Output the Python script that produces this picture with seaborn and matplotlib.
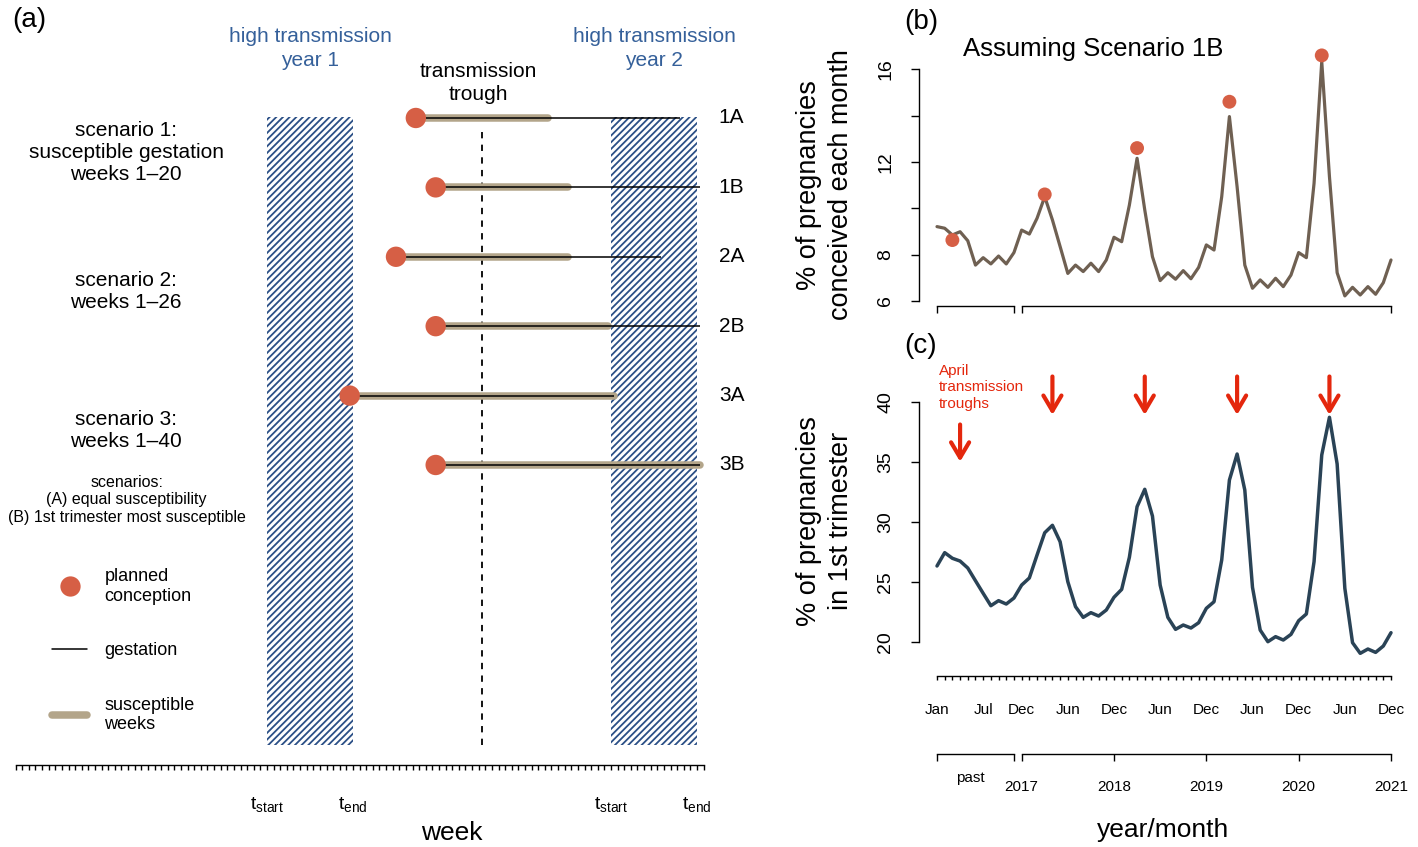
"""
Seasonal conception scenarios (a) and the resulting monthly series (b, c).
"""

import matplotlib
matplotlib.use("Agg")
import matplotlib.pyplot as plt
from matplotlib.lines import Line2D
import numpy as np
import pandas as pd
import seaborn as sns

# ----------------------------------------------------------------------
# data
# ----------------------------------------------------------------------
scenario_labels = ["1A", "1B", "2A", "2B", "3A", "3B"]
conception_week = [60.5, 63.5, 57.5, 63.5, 50.5, 63.5]
susceptible_length = [20, 20, 26, 26, 40, 40]
gestation_length = 40
t_start = [38, 90]
t_end = [51, 103]
trough_week = 70.5
n_weeks = 104
scenario_text = ["scenario 1:\nsusceptible gestation\nweeks 1\u201320",
                 "scenario 2:\nweeks 1\u201326",
                 "scenario 3:\nweeks 1\u201340"]

months = np.arange(60)
conceived = [9.21, 9.14, 8.85, 8.99, 8.60, 7.55, 7.87, 7.60, 7.94, 7.60, 8.09, 9.06,
             8.89, 9.57, 10.50, 9.50, 8.35, 7.19, 7.55, 7.27, 7.63, 7.27, 7.77, 8.75,
             8.56, 10.14, 12.16, 9.93, 7.91, 6.88, 7.22, 6.94, 7.31, 6.96, 7.45, 8.42,
             8.20, 10.50, 13.96, 10.93, 7.55, 6.55, 6.91, 6.59, 6.98, 6.62, 7.12, 8.09,
             7.87, 11.08, 16.33, 11.37, 7.22, 6.22, 6.59, 6.26, 6.62, 6.29, 6.79, 7.77]
planned_month = [2, 14, 26, 38, 50]
planned_value = [8.63, 10.6, 12.6, 14.6, 16.6]

first_trimester = [26.31, 27.42, 26.95, 26.72, 26.14, 25.08, 24.03, 23.00, 23.42, 23.14,
                   23.64, 24.72, 25.31, 27.22, 29.08, 29.70, 28.33, 25.00, 22.92, 22.03,
                   22.42, 22.14, 22.64, 23.70, 24.36, 27.03, 31.25, 32.70, 30.47, 24.72,
                   22.03, 21.03, 21.39, 21.14, 21.58, 22.78, 23.33, 26.81, 33.47, 35.64,
                   32.64, 24.53, 20.97, 20.00, 20.42, 20.14, 20.61, 21.75, 22.31, 26.67,
                   35.56, 38.70, 34.81, 24.45, 19.92, 19.03, 19.39, 19.11, 19.64, 20.75]
trough_month = [3, 15, 27, 39, 51]
arrow_top = [38.1, 42.1, 42.1, 42.1, 42.1]
arrow_tip = [35.0, 38.9, 38.9, 38.9, 38.9]

month_tick_text = {0: "Jan", 6: "Jul", 11: "Dec", 17: "Jun", 23: "Dec", 29: "Jun",
                   35: "Dec", 41: "Jun", 47: "Dec", 53: "Jun", 59: "Dec"}
past_bracket = [0, 10]
year_ticks = [11, 23, 35, 47, 59]
year_labels = ["2017", "2018", "2019", "2020", "2021"]

# ----------------------------------------------------------------------
# style
# ----------------------------------------------------------------------
sns.set_style("ticks")
plt.rcParams["font.family"] = ["Liberation Sans", "DejaVu Sans"]
plt.rcParams["mathtext.fontset"] = "custom"
plt.rcParams["mathtext.rm"] = "Liberation Sans"
plt.rcParams["hatch.linewidth"] = 1.3
for key in ["text.color", "axes.labelcolor", "xtick.color", "ytick.color",
            "axes.edgecolor"]:
    plt.rcParams[key] = "black"

RED = "#D65F45"
TAN = "#B3A58A"
HATCH = "#2B4F86"
BLUE_TXT = "#35609A"
BROWN = "#6F6052"
NAVY = "#2A4356"
ARROW = "#E4270D"

W, H = 1418, 847
fig = plt.figure(figsize=(W / 100, H / 100), dpi=100)


def box(l, t, r, b):
    return [l / W, 1 - b / H, (r - l) / W, (b - t) / H]


def bracket(ax, loc, ticks, labels=None):
    sec = ax.secondary_xaxis(loc)
    sec.spines["bottom"].set_bounds(ticks[0], ticks[-1])
    sec.spines["bottom"].set_linewidth(1)
    sec.set_xticks(ticks, labels if labels else [""] * len(ticks))
    sec.tick_params(axis="x", direction="out", length=5, width=1,
                    labelsize=11, pad=14)
    return sec


# ----------------------------------------------------------------------
# (a) scenarios
# ----------------------------------------------------------------------
ax = fig.add_axes(box(15.6, 0, 703.6, 765))
ax.set_xlim(0, n_weeks)
ax.set_ylim(9.323, -1.700)

df = pd.DataFrame({"label": scenario_labels,
                   "row": np.arange(len(scenario_labels)),
                   "start": conception_week,
                   "susc": susceptible_length})
df["susc_end"] = df["start"] + df["susc"]
df["gest_end"] = df["start"] + gestation_length

for k, (s, e) in enumerate(zip(t_start, t_end)):
    ax.axvspan(s, e, ymin=0.026, ymax=0.847, facecolor="none", edgecolor=HATCH,
               hatch="/////", linewidth=0, zorder=0)
    ax.text((s + e) / 2, -1.0, "high transmission\nyear %d" % (k + 1),
            ha="center", va="center", fontsize=15, color=BLUE_TXT, linespacing=1.3)

ax.axvline(trough_week, ymin=0.026, ymax=0.834, color="black", lw=1.3,
           ls=(0, (3.5, 3.5)), zorder=1)
ax.text(trough_week - 0.5, -0.5, "transmission\ntrough", ha="center", va="center",
        fontsize=15, linespacing=1.25)

ax.hlines(df["row"], df["start"], df["susc_end"], color=TAN, lw=5.4,
          capstyle="round", zorder=2)
ax.hlines(df["row"], df["start"], df["gest_end"], color="black", lw=1.1, zorder=3)
sns.scatterplot(data=df, x="start", y="row", s=215, color=RED, edgecolor="none",
                zorder=5, ax=ax, clip_on=False, legend=False)

for _, r in df.iterrows():
    ax.text(106.3, r["row"], r["label"], ha="left", va="center", fontsize=15)

for i, txt in enumerate(scenario_text):
    ax.text(16.7, 0.5 + 2 * i, txt, ha="center", va="center", fontsize=15)
ax.text(16.8, 5.5, "scenarios:\n(A) equal susceptibility\n(B) 1st trimester most susceptible",
        ha="center", va="center", fontsize=11.5)

handles = [Line2D([], [], ls="none", marker="o", ms=14.6, mfc=RED, mec="none"),
           Line2D([], [], color="black", lw=1.1),
           Line2D([], [], color=TAN, lw=5.4, solid_capstyle="round")]
ax.legend(handles, ["planned\nconception", "gestation", "susceptible\nweeks"],
          loc="upper left", bbox_to_anchor=(52 / W, 1 - 568 / H),
          bbox_transform=fig.transFigure, frameon=False, fontsize=13,
          handlelength=1.95, handletextpad=0.95, labelspacing=2.08,
          borderpad=0, borderaxespad=0)

ax.spines[["top", "right", "left"]].set_visible(False)
ax.spines["bottom"].set_bounds(0, n_weeks)
ax.spines["bottom"].set_linewidth(1)
ax.set_yticks([])
ax.set_ylabel("")
t_labels = {t_start[0]: r"$\mathrm{t}_{\mathrm{start}}$", t_end[0]: r"$\mathrm{t}_{\mathrm{end}}$",
            t_start[1]: r"$\mathrm{t}_{\mathrm{start}}$", t_end[1]: r"$\mathrm{t}_{\mathrm{end}}$"}
wk = np.arange(0, n_weeks + 1)
ax.set_xticks(wk, [t_labels.get(w, "") for w in wk])
ax.tick_params(axis="x", direction="out", length=3.3, width=1, labelsize=14, pad=19)
ax.set_xlabel("week", fontsize=19, va="center")
ax.xaxis.set_label_coords((452 - 15.6) / 688, -(833 - 765) / 765)

# ----------------------------------------------------------------------
# (b) conceptions per month
# ----------------------------------------------------------------------
xlim = ((919 - 937) / 7.695, (1400 - 937) / 7.695)

axb = fig.add_axes(box(919, 40, 1400, 306))
sns.lineplot(x=months, y=conceived, color=BROWN, lw=2.3, ax=axb)
sns.scatterplot(x=planned_month, y=planned_value, s=100, color=RED,
                edgecolor="none", zorder=5, ax=axb)
axb.set_xlim(*xlim)
axb.set_ylim(5.784, 17.265)
axb.spines[["top", "right", "bottom"]].set_visible(False)
axb.spines["left"].set_bounds(6, 16)
axb.spines["left"].set_linewidth(1)
axb.set_yticks([6, 8, 10, 12, 14, 16], ["6", "8", "", "12", "", "16"])
axb.set_xticks([])
axb.tick_params(axis="y", direction="out", length=5.8, width=1, labelsize=14,
                pad=12, labelrotation=90)
for lab in axb.get_yticklabels():
    lab.set_va("center")
axb.set_ylabel("% of pregnancies\nconceived each month", fontsize=19.5,
               va="center", linespacing=1.3)
axb.yaxis.set_label_coords((825 - 919) / 481, (306 - 185) / 266)
bracket(axb, 0, past_bracket)
bracket(axb, 0, [year_ticks[0], year_ticks[-1]])
axb.text((963 - 919) / 481, (306 - 49) / 266, "Assuming Scenario 1B",
         transform=axb.transAxes, ha="left", va="center", fontsize=18.5)

# ----------------------------------------------------------------------
# (c) share of pregnancies in first trimester
# ----------------------------------------------------------------------
axc = fig.add_axes(box(919, 360, 1400, 660))
sns.lineplot(x=months, y=first_trimester, color=NAVY, lw=2.5, ax=axc)
axc.set_xlim(*xlim)
axc.set_ylim(18.475, 43.475)
axc.spines[["top", "right"]].set_visible(False)
axc.spines["left"].set_bounds(20, 40)
axc.spines["left"].set_linewidth(1)
axc.spines["bottom"].set_bounds(0, 59)
axc.spines["bottom"].set_linewidth(1)
axc.spines["bottom"].set_position(("outward", 11.5))
axc.set_yticks([20, 25, 30, 35, 40])
axc.tick_params(axis="y", direction="out", length=5.8, width=1, labelsize=14,
                pad=12, labelrotation=90)
for lab in axc.get_yticklabels():
    lab.set_va("center")
axc.set_xticks(months, [month_tick_text.get(m, "") for m in months])
axc.tick_params(axis="x", direction="out", length=3, width=1, labelsize=11, pad=16.5)
axc.set_ylabel("% of pregnancies\nin 1st trimester", fontsize=19.5,
               va="center", linespacing=1.3)
axc.yaxis.set_label_coords((825 - 919) / 481, (660 - 521) / 300)

loc_years = -(754 - 660) / 300
bracket(axc, loc_years, past_bracket)
bracket(axc, loc_years, year_ticks, year_labels)
axc.text(4.3, (660 - 778) / 300, "past", transform=axc.get_xaxis_transform(),
         ha="center", va="center", fontsize=11)
axc.set_xlabel("year/month", fontsize=19, va="center")
axc.xaxis.set_label_coords((1163 - 919) / 481, (660 - 830) / 300)

for m, top, tip in zip(trough_month, arrow_top, arrow_tip):
    axc.annotate("", xy=(m, tip), xytext=(m, top),
                 arrowprops=dict(arrowstyle="->,head_length=1.1,head_width=0.65",
                                 color=ARROW, lw=3, shrinkA=0, shrinkB=0,
                                 mutation_scale=10))
axc.text(0.2, 41.19, "April\ntransmission\ntroughs", color=ARROW, ha="left",
         va="center", fontsize=11)

# panel letters
fig.text(29 / W, 1 - 20 / H, "(a)", fontsize=20, ha="center", va="center")
fig.text(921 / W, 1 - 22 / H, "(b)", fontsize=20, ha="center", va="center")
fig.text(921 / W, 1 - 346 / H, "(c)", fontsize=20, ha="center", va="center")

fig.savefig("out.png", dpi=100)
